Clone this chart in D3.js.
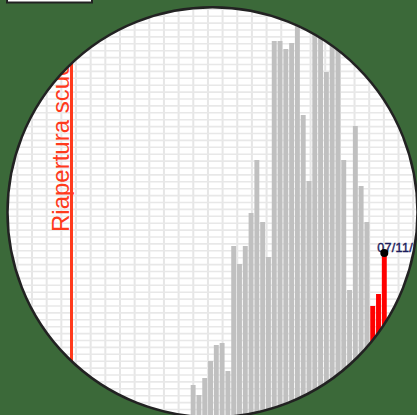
<!DOCTYPE html>
<html>
<head>
<meta charset="utf-8">
<script src="https://cdn.jsdelivr.net/npm/d3@7"></script>
<style>
  body { margin: 0; background: #3b6939; }
  svg { display: block; }
</style>
</head>
<body>
<script>
// daily values, 05/10/2020 -> 07/11/2020
const dates = [
  "05/10/2020", "06/10/2020", "07/10/2020", "08/10/2020", "09/10/2020", "10/10/2020",
  "11/10/2020", "12/10/2020", "13/10/2020", "14/10/2020", "15/10/2020", "16/10/2020",
  "17/10/2020", "18/10/2020", "19/10/2020", "20/10/2020", "21/10/2020", "22/10/2020",
  "23/10/2020", "24/10/2020", "25/10/2020", "26/10/2020", "27/10/2020", "28/10/2020",
  "29/10/2020", "30/10/2020", "31/10/2020", "01/11/2020", "02/11/2020", "03/11/2020",
  "04/11/2020", "05/11/2020", "06/11/2020", "07/11/2020"
];
const cases = [
  450, 350, 520, 690, 850, 870, 590, 1840, 1660, 1840, 2170, 2700,
  2080, 1730, 3890, 3890, 3810, 3870, 4350, 3150, 2490, 4350, 4250, 3580,
  4350, 4350, 2700, 1400, 3040, 2440, 2080, 1240, 1360, 1770
];
const recentDates = ["05/11/2020", "06/11/2020", "07/11/2020"];
const eventDates = ["14/09/2020"];
const eventLabels = ["Riapertura scuole"];
const lastLabel = "07/11/2020";

const width = 417;
const height = 415;
const cx = 212.5, cy = 212.3, r = 205;

const parse = d3.timeParse("%d/%m/%Y");

const svg = d3
  .select("body")
  .append("svg")
  .attr("width", width)
  .attr("height", height);

// box peeking in at the top
svg
  .append("rect")
  .attr("x", 7)
  .attr("y", -30)
  .attr("width", 85)
  .attr("height", 32.5)
  .attr("fill", "white")
  .attr("stroke", "#222")
  .attr("stroke-width", 2);

svg
  .append("clipPath")
  .attr("id", "lens")
  .append("circle")
  .attr("cx", cx)
  .attr("cy", cy)
  .attr("r", r);

svg
  .append("circle")
  .attr("cx", cx)
  .attr("cy", cy)
  .attr("r", r)
  .attr("fill", "white");

const g = svg.append("g").attr("clip-path", "url(#lens)");

//scales
const x = d3
  .scaleTime()
  .domain([parse("14/09/2020"), parse("07/11/2020")])
  .range([71.5, 384.3]);
const dayW = x(parse("02/01/2020")) - x(parse("01/01/2020"));
const y = d3.scaleLinear().domain([0, 4000]).range([430, 30]);

//background grid
const gridX = d3.range(2.7, width, 14.66);
const gridY = d3.range(2.4, height, 6.9);
g.selectAll(".gx")
  .data(gridX)
  .enter()
  .append("line")
  .attr("x1", (d) => d)
  .attr("x2", (d) => d)
  .attr("y1", 0)
  .attr("y2", height)
  .attr("stroke", "#e6e6e6")
  .attr("stroke-width", 2);
g.selectAll(".gy")
  .data(gridY)
  .enter()
  .append("line")
  .attr("y1", (d) => d)
  .attr("y2", (d) => d)
  .attr("x1", 0)
  .attr("x2", width)
  .attr("stroke", "#e8e8e8")
  .attr("stroke-width", 1.6);

//bars
const barW = dayW * 0.85;
g.selectAll(".bar")
  .data(dates)
  .enter()
  .append("rect")
  .attr("x", (d) => x(parse(d)) - barW / 2)
  .attr("y", (d, i) => y(cases[i]))
  .attr("width", barW)
  .attr("height", (d, i) => y(0) - y(cases[i]))
  .attr("fill", (d) => (recentDates.includes(d) ? "#ff0000" : "#c0c0c0"));

//event lines
eventDates.forEach((d, i) => {
  const ex = x(parse(d));
  g.append("line")
    .attr("x1", ex)
    .attr("x2", ex)
    .attr("y1", 0)
    .attr("y2", height)
    .attr("stroke", "#ff3a1c")
    .attr("stroke-width", 3);
  g.append("text")
    .attr("transform", `translate(${ex - 2.5},232) rotate(-90)`)
    .attr("fill", "#ff3a1c")
    .style("font-family", "Liberation Sans, Arial, sans-serif")
    .style("font-size", "24px")
    .text(eventLabels[i]);
});

//last point
const lastIdx = dates.indexOf(lastLabel);
const lx = x(parse(lastLabel));
const ly = y(cases[lastIdx]);
g.append("text")
  .attr("x", lx - 7)
  .attr("y", ly - 1)
  .attr("fill", "#1c1c5c")
  .attr("stroke", "#1c1c5c")
  .attr("stroke-width", 0.4)
  .style("font-family", "Liberation Sans, Arial, sans-serif")
  .style("font-size", "12.5px")
  .style("letter-spacing", "0.3px")
  .text(lastLabel);
g.append("circle")
  .attr("cx", lx)
  .attr("cy", ly)
  .attr("r", 4)
  .attr("fill", "black");

svg
  .append("circle")
  .attr("cx", cx)
  .attr("cy", cy)
  .attr("r", r)
  .attr("fill", "none")
  .attr("stroke", "#222")
  .attr("stroke-width", 2.5);
</script>
</body>
</html>
